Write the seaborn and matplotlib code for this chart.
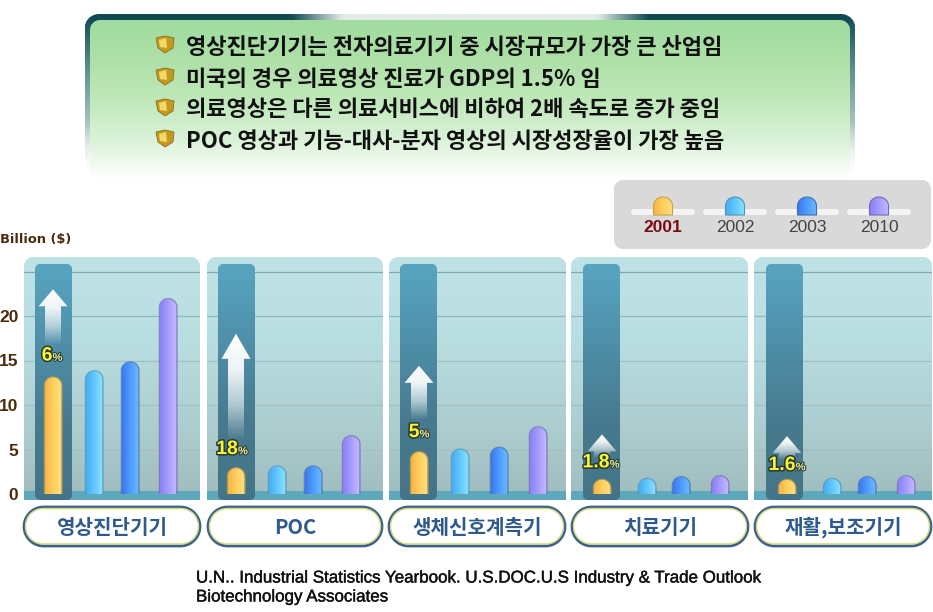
import numpy as np
import pandas as pd
import matplotlib
matplotlib.use("Agg")
import matplotlib.pyplot as plt
import matplotlib.patheffects as pe
from matplotlib.colors import to_rgba
from matplotlib.patches import PathPatch, Rectangle, Polygon
from matplotlib.path import Path
import seaborn as sns

# ---------- data ----------
CATEGORIES = ["영상진단기기", "POC", "생체신호계측기", "치료기기", "재활,보조기기"]
YEARS = ["2001", "2002", "2003", "2010"]
VALUES_2001 = [13.1, 2.9, 4.7, 1.6, 1.6]
VALUES_2002 = [13.8, 3.1, 5.0, 1.7, 1.7]
VALUES_2003 = [14.8, 3.1, 5.2, 1.9, 1.9]
VALUES_2010 = [21.9, 6.5, 7.5, 2.0, 2.0]
GROWTH = ["6", "18", "5", "1.8", "1.6"]
ARROW_TOP = [23.0, 18.0, 14.4, 6.7, 6.5]
ARROW_FADE = [16.7, 6.0, 8.3, 4.0, 3.8]
LABEL_Y = [15.5, 5.0, 6.9, 3.5, 3.2]
Y_TICKS = [0, 5, 10, 15, 20, 25]
Y_TICK_LABELS = ["0", "5", "10", "15", "20", ""]
HEADLINES = [
    "영상진단기기는 전자의료기기 중 시장규모가 가장 큰 산업임",
    "미국의 경우 의료영상 진료가 GDP의 1.5% 임",
    "의료영상은 다른 의료서비스에 비하여 2배 속도로 증가 중임",
    "POC 영상과 기능-대사-분자 영상의 시장성장율이 가장 높음",
]
UNIT_LABEL = "Billion ($)"
SOURCE = ["U.N.. Industrial Statistics Yearbook. U.S.DOC.U.S Industry & Trade Outlook",
          "Biotechnology Associates"]

# ---------- layout (pixels) ----------
W, H = 933, 612
PANEL_L = [24, 207, 389, 571, 754]
PANEL_R = [200, 383, 566, 748, 932]
PANEL_TOP, PANEL_BOT, Y0_PX, PX_PER_UNIT = 257, 500, 494, 8.9
SLOTS = [[29, 70, 106, 144], [29, 70, 106, 144], [30, 71, 110, 149],
         [31, 76, 110, 149], [33, 78, 113, 152]]
LABEL_DX = [-1, -4, 0, -1, 0]
COL_L, COL_W = [11, 11, 11, 12, 12], 37
BAR_W = 16.5
HEAD_Y = [47, 79, 110, 141]
PILLS = [(23, 201), (207, 383), (388, 566), (571, 749), (754, 932)]
BAR_GRAD = {"2001": ["#f4b445", "#ffd05e", "#ffe083"],
            "2002": ["#46aef0", "#62c8ff", "#8fe2ff"],
            "2003": ["#3b77ee", "#4f9cff", "#6bbcff"],
            "2010": ["#8a80f6", "#a79dff", "#c4bcff"]}
BAR_EDGE = {"2001": "#c9a04a", "2002": "#4c93bd", "2003": "#3d6fb8", "2010": "#7468bb"}
GRID_COLORS = ["#a0bcbe", "#a2bec0", "#a3bfc2", "#9fc0c2", "#92b9bc", "#7fa8ae"]
KR = ["Noto Sans CJK KR", "DejaVu Sans"]
DARK = "#0f4a52"

sns.set_theme(style="white")
plt.rcParams["font.family"] = ["Liberation Sans", "DejaVu Sans"]
fig = plt.figure(figsize=(W / 100, H / 100), dpi=100, facecolor="white")
bg = fig.add_axes([0, 0, 1, 1], zorder=0)
bg.set_xlim(0, W)
bg.set_ylim(H, 0)
bg.axis("off")


def grad(ax, extent, stops, vertical=True, clip=None, zorder=1):
    t = np.linspace(0, 1, 128)
    c = np.array([to_rgba(s) for s in stops])
    p = np.linspace(0, 1, len(stops))
    arr = np.stack([np.interp(t, p, c[:, i]) for i in range(4)], axis=-1)
    arr = arr[:, None, :] if vertical else arr[None, :, :]
    im = ax.imshow(arr, extent=extent, aspect="auto", origin="upper",
                   zorder=zorder, interpolation="bilinear")
    if clip is not None:
        im.set_clip_path(clip)
    return im


def dome(x0, x1, y0, y1, rx, ry):
    a = np.linspace(np.pi, 0, 32)
    cx = (x0 + x1) / 2
    xs = np.r_[x0, cx + rx * np.cos(a), x1, x0]
    ys = np.r_[y0, y1 - ry + ry * np.sin(a), y0, y0]
    return Path(np.c_[xs, ys], closed=True)


def rbox(ax, x, y, w, h, r, ry=None, **kw):
    """Rounded rectangle with true circular corners; ry = corner height in y units."""
    ry = r if ry is None else ry
    a = np.linspace(0, np.pi / 2, 14)
    c, s = np.cos(a), np.sin(a)
    xs = np.r_[x + w - r + r * c, x + r - r * s, x + r - r * c, x + w - r + r * s]
    ys = np.r_[y + h - ry + ry * s, y + h - ry + ry * c, y + ry - ry * s, y + ry - ry * c]
    xs, ys = np.r_[xs, xs[0]], np.r_[ys, ys[0]]
    p = PathPatch(Path(np.c_[xs, ys], closed=True), **kw)
    ax.add_patch(p)
    return p


# ---------- banner ----------
outer = rbox(bg, 85, 14, 770, 164, 14, fc="none", ec="none")
top_stops = [DARK] * 5 + ["#e4ecea"] * 6 + [DARK] * 5
grad(bg, (85, 855, 30, 14), top_stops, vertical=False, clip=outer, zorder=1)
side = [DARK, "#5d8f8f", "#a8c4be", "#ffffff00"]
grad(bg, (85, 91, 178, 14), side, clip=outer, zorder=1)
grad(bg, (849, 855, 178, 14), side, clip=outer, zorder=1)
inner = rbox(bg, 90, 20, 760, 160, 10, fc="none", ec="none")
grad(bg, (90, 850, 180, 20), ["#a0dca0", "#aee0a8", "#c0e8ba", "#daf2d8", "#ffffff"], clip=inner, zorder=2)

for y, line in zip(HEAD_Y, HEADLINES):
    bg.add_patch(Polygon([(156, y - 9), (165, y - 11), (174, y - 9), (173, y + 1), (165, y + 6), (158, y + 1)],
                         fc="#c49a1e", ec="#8a6f1a", lw=0.6, zorder=3))
    bg.add_patch(Polygon([(159, y - 7), (166, y - 9), (167, y + 1), (160, y)],
                         fc="#f3d768", ec="none", zorder=4))
    bg.text(186, y, line, family=KR, fontweight="bold", fontsize=15.9, color="#111111",
            va="center", ha="left", zorder=5)

# ---------- legend ----------
rbox(bg, 614, 180, 317, 69, 9, fc="#d9d9d9", ec="none", zorder=1)
for k, yr in enumerate(YEARS):
    c = [663, 735, 807, 879][k]
    rbox(bg, c - 32, 209, 64, 6, 3, fc="#f4f4f4", ec="none", zorder=2)
    pth = dome(c - 9.5, c + 9.5, 215, 197, 9.5, -9)
    pp = PathPatch(pth, fc="none", ec=BAR_EDGE[yr], lw=0.8, zorder=4)
    bg.add_patch(pp)
    grad(bg, (c - 9.5, c + 9.5, 215, 197), BAR_GRAD[yr], vertical=False, clip=pp, zorder=3)
    bg.text(c, 227.5, yr, ha="center", va="center", fontsize=12.5, zorder=5,
            color="#7a0a14" if k == 0 else "#444444",
            fontweight="bold" if k == 0 else "normal")

bg.text(0, 239, UNIT_LABEL, fontsize=9.4, fontweight="bold", color="#4a2c0c", family="DejaVu Sans",
        ha="left", va="center")
for line, y in zip(SOURCE, [578, 597]):
    bg.text(196, y, line, fontsize=12.2, color="#111111", ha="left", va="center",
            path_effects=[pe.withStroke(linewidth=0.3, foreground="#111111")])

# ---------- pills ----------
for (a, b), cat in zip(PILLS, CATEGORIES):
    rbox(bg, a + 1, 507, b - a - 2, 39, 19.5, fc="white", ec="#3c6090", lw=2, zorder=2)
    rbox(bg, a + 2.5, 508.5, b - a - 5, 35.5, 17.5, fc="white", ec="#ccd870", lw=1, zorder=3)
    bg.text((a + b) / 2, 527, cat, family=KR, fontweight="bold", fontsize=14.5, color="#2f5b8c",
            ha="center", va="center", zorder=4)

# ---------- panels ----------
table = pd.DataFrame({"2001": VALUES_2001, "2002": VALUES_2002, "2003": VALUES_2003, "2010": VALUES_2010})
ymin = (Y0_PX - PANEL_BOT) / PX_PER_UNIT
ymax = (Y0_PX - PANEL_TOP) / PX_PER_UNIT
fig.canvas.draw()
renderer = fig.canvas.get_renderer()

for i, cat in enumerate(CATEGORIES):
    L, R = PANEL_L[i], PANEL_R[i]
    ax = fig.add_axes([L / W, 1 - PANEL_BOT / H, (R - L) / W, (PANEL_BOT - PANEL_TOP) / H], zorder=2 + i)
    ax.patch.set_alpha(0)
    pw = R - L
    df = pd.DataFrame({"slot": SLOTS[i], "value": table.loc[i, YEARS].astype(float).values, "year": YEARS})
    sns.barplot(data=df, x="slot", y="value", hue="year", hue_order=YEARS, dodge=False,
                native_scale=True, legend=False, ax=ax, palette=[BAR_GRAD[y][1] for y in YEARS])
    ax.set_xlabel("")
    ax.set_ylabel("")
    ax.set_xticks([])
    for s in ax.spines.values():
        s.set_visible(False)
    ax.set_yticks(Y_TICKS)
    ax.grid(axis="y", lw=0.9)
    ax.set_axisbelow(False)
    for gl, gc in zip(ax.get_ygridlines(), GRID_COLORS):
        gl.set_zorder(2)
        gl.set_color(gc)
    if i == 0:
        ax.set_yticklabels(Y_TICK_LABELS, fontsize=12.5, fontweight="bold", color="#4a2c0c")
        ax.tick_params(axis="y", length=0, pad=4)
    else:
        ax.tick_params(axis="y", length=0, labelleft=False)

    # panel body
    body = rbox(ax, 0, ymin, pw, ymax - ymin, 9, ry=9 / PX_PER_UNIT, fc="none", ec="none")
    grad(ax, (0, pw, ymin, ymax), ["#bfe2e6", "#b9dee1", "#aecfd1", "#9fbcbd"], clip=body, zorder=0.5)
    ax.add_patch(Rectangle((0, ymin), pw, 3 / PX_PER_UNIT - ymin, fc="#5ea8bb", ec="none", zorder=3))

    # highlighted column behind the first bar
    col_top = (Y0_PX - 264) / PX_PER_UNIT
    col = rbox(ax, COL_L[i], ymin, COL_W, col_top - ymin, 5, ry=5 / PX_PER_UNIT, fc="none", ec="none")
    grad(ax, (COL_L[i], COL_L[i] + COL_W, ymin, col_top),
         ["#58a5c1", "#4f8fa9", "#477a8e", "#447488"], clip=col, zorder=4)

    # bars from the seaborn containers, restyled with rounded tops
    first_x = None
    for cont, yr in zip(ax.containers, YEARS):
        b = cont[0]
        b.set_visible(False)
        cx = b.get_x() + b.get_width() / 2
        if first_x is None:
            first_x = cx
        v = b.get_height()
        x0, x1 = cx - BAR_W / 2, cx + BAR_W / 2
        rx = BAR_W / 2
        ry = min(rx, v * PX_PER_UNIT) / PX_PER_UNIT
        ax.add_patch(PathPatch(dome(x0 - 1, x1 + 1.4, 0, v + 0.12, rx + 1.2, ry + 0.12),
                               fc=BAR_EDGE[yr], ec="none", alpha=0.75, zorder=5))
        pp = PathPatch(dome(x0, x1, 0, v, rx, ry), fc="none", ec="none", zorder=7)
        ax.add_patch(pp)
        grad(ax, (x0, x1, 0, v), BAR_GRAD[yr], vertical=False, clip=pp, zorder=6)

    # arrow
    hb = (ARROW_TOP[i] * PX_PER_UNIT - (17 if i != 1 else 25)) / PX_PER_UNIT
    ax_pts = [(first_x - 8, ARROW_FADE[i]), (first_x - 8, hb), (first_x - 14.5, hb), (first_x, ARROW_TOP[i]),
              (first_x + 14.5, hb), (first_x + 8, hb), (first_x + 8, ARROW_FADE[i])]
    ar = Polygon(ax_pts, closed=True, fc="none", ec="none", zorder=8)
    ax.add_patch(ar)
    grad(ax, (first_x - 15, first_x + 15, ARROW_FADE[i], ARROW_TOP[i]),
         ["#ffffff", "#ffffffe8", "#ffffff90", "#ffffff00"], clip=ar, zorder=8)

    # growth label: large number + small percent sign
    fx = [pe.withStroke(linewidth=2.2, foreground="#2c3a33")]
    lx = first_x + LABEL_DX[i]
    t1 = ax.text(lx, LABEL_Y[i], GROWTH[i], fontsize=14, fontweight="bold", color="#f6f632",
                 ha="left", va="center", path_effects=fx, zorder=10)
    t2 = ax.text(lx, LABEL_Y[i] - 0.2, "%", fontsize=8, fontweight="bold", color="#e9f3a8",
                 ha="left", va="center", path_effects=[pe.withStroke(linewidth=1.5, foreground="#2c3a33")], zorder=10)
    ax.set_xlim(0, pw)
    ax.set_ylim(ymin, ymax)
    w1 = t1.get_window_extent(renderer).width
    w2 = t2.get_window_extent(renderer).width
    t1.set_x(lx - (w1 + w2) / 2)
    t2.set_x(lx - (w1 + w2) / 2 + w1)

fig.savefig("out.png", dpi=100)
